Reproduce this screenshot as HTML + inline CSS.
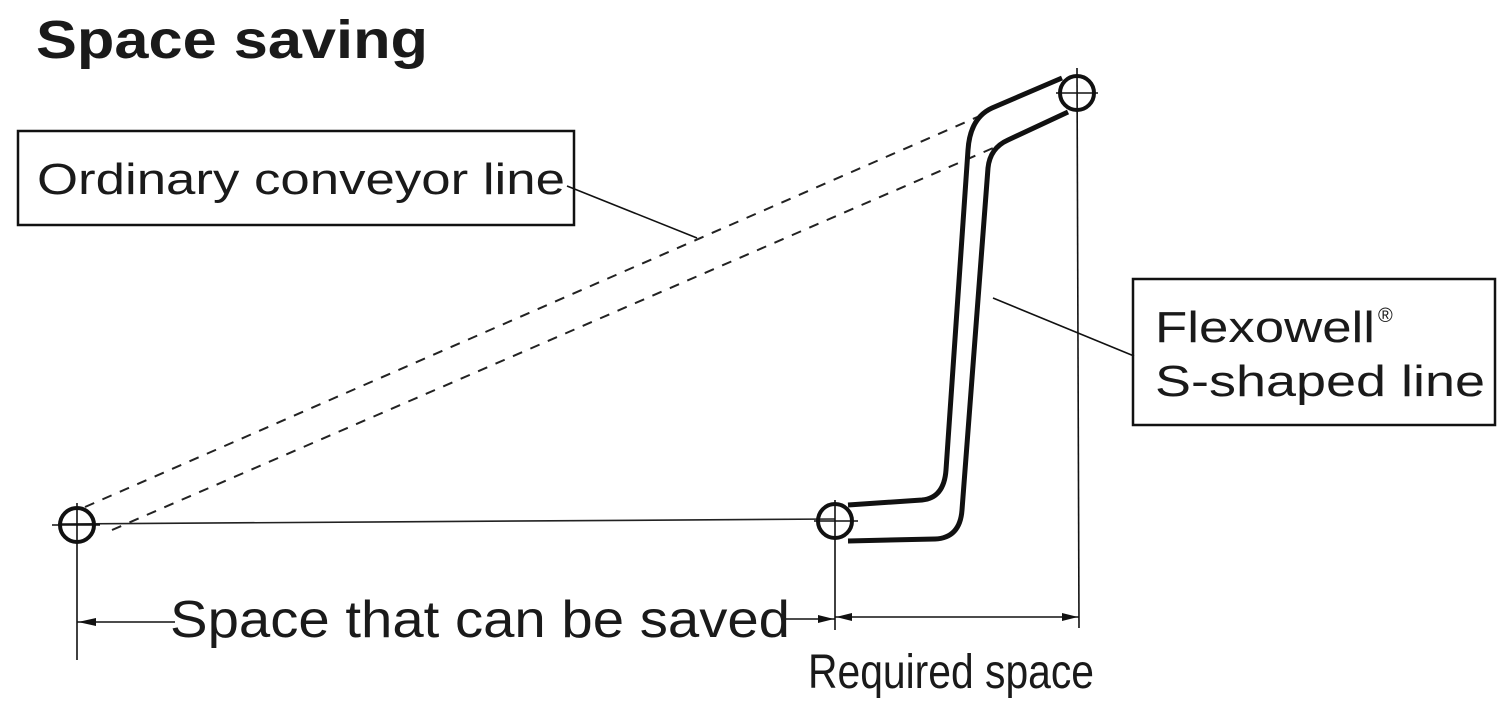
<!DOCTYPE html>
<html><head><meta charset="utf-8"><style>
body{margin:0;background:#fff;}
svg{display:block}
text{font-family:"Liberation Sans",sans-serif;fill:#1a1a1a}
</style></head><body>
<svg width="1506" height="707" viewBox="0 0 1506 707" xmlns="http://www.w3.org/2000/svg">
<text x="36" y="58" font-size="54" font-weight="bold" textLength="392" lengthAdjust="spacingAndGlyphs">Space saving</text>
<!-- dashed lines -->
<g stroke="#222" stroke-width="2" stroke-dasharray="10,9" fill="none">
<line x1="85" y1="507" x2="982" y2="115"/>
<line x1="112" y1="530" x2="1000" y2="145"/>
</g>
<!-- base line -->
<line x1="58" y1="524" x2="835" y2="519" stroke="#222" stroke-width="1.6"/>
<!-- S shape -->
<g stroke="#111" stroke-width="5" fill="none" stroke-linejoin="round">
<path d="M848 505 L922 500 Q944 498 946 470 L968 150 Q970 118 992 108 L1062 78"/>
<path d="M848 541 L935 539 Q960 538 962 510 L988 168 Q990 148 1008 140 L1068 112"/>
</g>
<!-- circles -->
<g stroke="#111" stroke-width="4" fill="none">
<circle cx="77" cy="525" r="17"/>
<circle cx="835" cy="521" r="17"/>
<circle cx="1077" cy="93" r="17"/>
</g>
<g stroke="#111" stroke-width="1.6">
<line x1="52" y1="525" x2="100" y2="525"/><line x1="77" y1="503" x2="77" y2="660"/>
<line x1="814" y1="521" x2="858" y2="521"/><line x1="835" y1="500" x2="835" y2="630"/>
<line x1="1056" y1="93" x2="1098" y2="93"/><line x1="1077" y1="68" x2="1079" y2="628"/>
<line x1="77" y1="622" x2="175" y2="622"/>
<line x1="785" y1="619" x2="835" y2="619"/>
<line x1="835" y1="617" x2="1079" y2="617"/>
<line x1="567" y1="186" x2="697" y2="238"/>
<line x1="993" y1="298" x2="1134" y2="356"/>
</g>
<g fill="#111">
<polygon points="78,622 96,618 96,626"/>
<polygon points="834,619 818,615 818,623"/>
<polygon points="836,617 852,613 852,621"/>
<polygon points="1078,617 1062,613 1062,621"/>
</g>
<!-- boxes -->
<rect x="18" y="131" width="556" height="94" fill="none" stroke="#111" stroke-width="2.5"/>
<text x="37" y="194" font-size="44" textLength="528" lengthAdjust="spacingAndGlyphs">Ordinary conveyor line</text>
<rect x="1133" y="279" width="362" height="146" fill="none" stroke="#111" stroke-width="2.5"/>
<text x="1155" y="342" font-size="44" textLength="220" lengthAdjust="spacingAndGlyphs">Flexowell</text>
<text x="1378" y="322" font-size="20">®</text>
<text x="1155" y="396" font-size="44" textLength="330" lengthAdjust="spacingAndGlyphs">S-shaped line</text>
<text x="170" y="637" font-size="52" textLength="620" lengthAdjust="spacingAndGlyphs">Space that can be saved</text>
<text x="808" y="688" font-size="48" textLength="286" lengthAdjust="spacingAndGlyphs">Required space</text>
</svg>
</body></html>
